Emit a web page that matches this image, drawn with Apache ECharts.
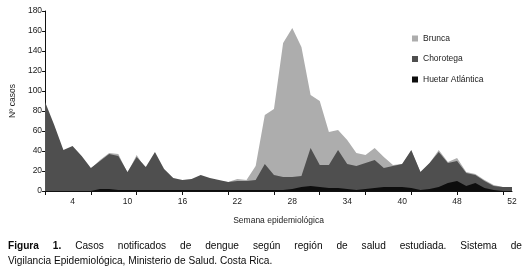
<!DOCTYPE html>
<html><head><meta charset="utf-8">
<script src="https://cdn.jsdelivr.net/npm/echarts@6/dist/echarts.min.js"></script>
<style>html,body{margin:0;padding:0;background:#fff}#c{width:529px;height:272px}</style>
</head><body><div id="c"></div>
<script>
const weeks = [1,2,3,4,5,6,7,8,9,10,11,12,13,14,15,16,17,18,19,20,21,22,23,24,25,26,27,28,29,30,31,32,33,34,35,36,37,38,39,40,41,42,43,44,45,46,47,48,49,50,51,52];
const brunca = [86,64,39,43,32,22,31,38,37,18,36,22,37,20,12,10,11,15,12,10,9,12,11,25,76,82,148,163,144,96,90,59,61,51,38,36,43,34,26,27,40,19,28,41,29,33,19,17,11,6,4,4];
const chorotega = [89,66,41,45,35,23,30,37,35,19,34,24,39,22,13,11,12,16,13,11,9,10,10,11,27,16,14,14,15,43,26,26,41,27,25,28,31,23,25,27,41,19,28,39,28,30,18,16,10,5,4,4];
const huetar = [0,0,0,0,0,0,2,2,1,1,1,1,1,1,1,1,1,1,1,1,1,1,1,1,1,1,1,2,4,5,4,3,3,2,1,2,3,4,4,4,3,1,2,4,8,10,5,8,3,1,0,0];
const seriesNames = ["Brunca","Chorotega","Huetar Atlántica"];
const tickWeeks = [4,10,16,22,28,34,40,46,52];
const tickLabels = ["4","10","16","22","28","34","40","48","52"];
const yName = "Nº casos";
const xName = "Semana epidemiológica";
const captionBold = "Figura 1.";
const captionLine1 = "Casos notificados de dengue según región de salud estudiada. Sistema de";
const captionLine2 = "Vigilancia Epidemiológica, Ministerio de Salud. Costa Rica.";

const FONT = '"Liberation Sans", Arial, Helvetica, sans-serif';
const colors = ['#adadad', '#4f4f4f', '#0d0d0d'];
const capSize = 11.5;
const capScale = 0.88;

// justified caption line 1
const cv = document.createElement('canvas').getContext('2d');
function w(t, bold){ cv.font = (bold?'bold ':'') + capSize + 'px ' + FONT; return cv.measureText(t).width * capScale; }
const tokens = captionBold.split(' ').map(t=>[t,true]).concat(captionLine1.split(' ').map(t=>[t,false]));
const x0 = 8, x1 = 522;
const totalW = tokens.reduce((s,t)=>s+w(t[0],t[1]),0);
const gap = (x1-x0-totalW)/(tokens.length-1);
const graphics = [];
let cx = x0;
tokens.forEach(t=>{
  graphics.push({type:'text', x:cx, y:240, scaleX:capScale, style:{text:t[0], font:(t[1]?'bold ':'')+capSize+'px '+FONT, fill:'#0a0a0a', textVerticalAlign:'top'}});
  cx += w(t[0],t[1]) + gap;
});
graphics.push({type:'text', x:x0, y:255, scaleX:capScale, style:{text:captionLine2, font:capSize+'px '+FONT, fill:'#0a0a0a', textVerticalAlign:'top'}});

const chart = echarts.init(document.getElementById('c'), null, {renderer:'canvas'});
const mk = (i, data) => ({
  name: seriesNames[i], type:'line', data, color: colors[i],
  showSymbol:false, symbol:'none', lineStyle:{width:0}, areaStyle:{color:colors[i], opacity:1},
  z: 2+i, silent:true
});
chart.setOption({
  animation:false,
  textStyle:{fontFamily:FONT},
  grid:{left:40, right:17, top:11, bottom:81, containLabel:false},
  legend:{data:seriesNames, orient:'vertical', left:407, top:29, icon:'rect', itemWidth:6, itemHeight:6, itemGap:11.5,
    textStyle:{fontSize:8.5, color:'#222', fontFamily:FONT}},
  xAxis:{type:'category', data:weeks, boundaryGap:false,
    axisLine:{lineStyle:{color:'#111', width:1}},
    axisTick:{interval:(i)=> i%5===0, length:4, lineStyle:{color:'#111'}},
    axisLabel:{interval:(i,v)=> tickWeeks.includes(+v), formatter:(v)=> tickLabels[tickWeeks.indexOf(+v)], fontSize:8.5, color:'#222', margin:6, fontFamily:FONT},
    name:xName, nameLocation:'middle', nameGap:25, nameTextStyle:{fontSize:8.5, color:'#222', fontFamily:FONT},
    splitLine:{show:false}},
  yAxis:{type:'value', min:0, max:180, interval:20,
    axisLine:{show:true, lineStyle:{color:'#111', width:1}},
    axisTick:{show:true, length:3, lineStyle:{color:'#111'}},
    axisLabel:{fontSize:8.5, color:'#222', margin:3, fontFamily:FONT},
    splitLine:{show:false},
    name:yName, nameLocation:'middle', nameGap:27, nameRotate:90, nameTextStyle:{fontSize:8.5, color:'#222', fontFamily:FONT}},
  series:[mk(0,brunca), mk(1,chorotega), mk(2,huetar)],
  graphic:graphics
});
</script>
</body></html>
